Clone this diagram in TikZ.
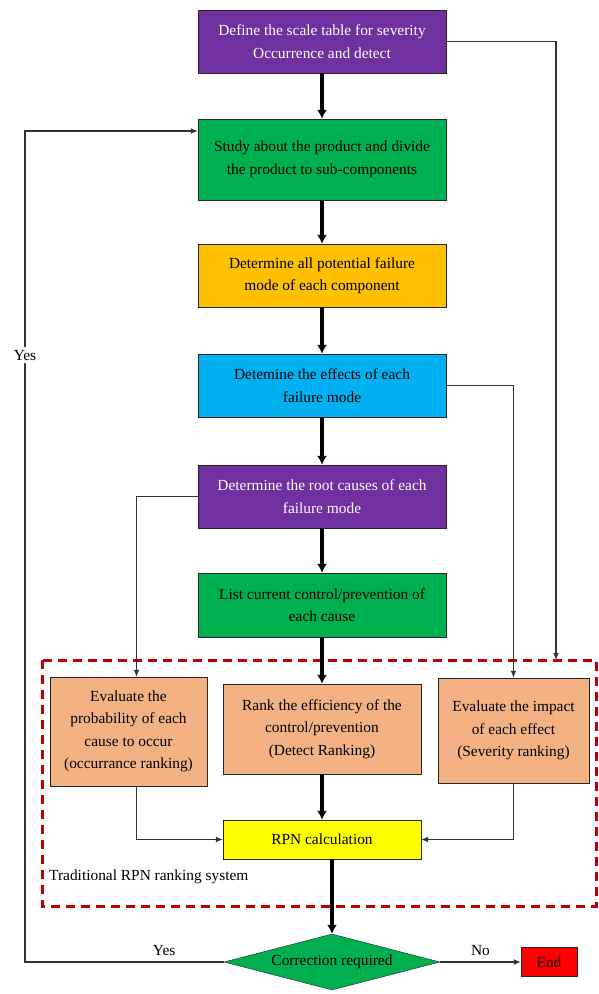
\documentclass[tikz,border=0pt]{standalone}
\usepackage{fontspec}
\setmainfont{Liberation Serif}
\usetikzlibrary{positioning,shapes.geometric,arrows.meta}
\definecolor{purp}{HTML}{7030A0}
\definecolor{grn}{HTML}{00B050}
\definecolor{gold}{HTML}{FFC000}
\definecolor{sky}{HTML}{00B0F0}
\definecolor{peach}{HTML}{F4B183}
\definecolor{yel}{HTML}{FFFF00}
\definecolor{dred}{HTML}{C00000}
\begin{document}
\begin{tikzpicture}[x=1pt,y=1pt]
    \tikzstyle{every node}=[font=\fontsize{15.4}{22.5}\selectfont]
    \tikzstyle{box}=[draw=black!85,rectangle,inner sep=0,align=center,minimum width=248,minimum height=63]
    \tikzstyle{rank}=[box,fill=peach]
    \tikzstyle{note}=[draw=none,fill=none,inner sep=1]
    \tikzstyle{flow}=[line width=4pt,-{Latex[length=9pt,width=10pt]}]
    \tikzstyle{link}=[draw=black!80,line width=1.3pt,-{Latex[length=7pt,width=6pt]}]
    \tikzstyle{region}=[draw=dred,line width=3pt,dash pattern=on 9pt off 6pt]
    \useasboundingbox (0,0) rectangle (598,-994);

    \node[box,fill=purp,text=white] (scale) at (322,-41.5) {Define the scale table for severity\\Occurrence and detect};
    \node[box,fill=grn,minimum height=81] (study) at (322,-159.5) {Study about the product and divide\\the product to sub-components};
    \node[box,fill=gold] (mode) at (322,-275.5) {Determine all potential failure\\mode of each component};
    \node[box,fill=sky] (effect) at (322,-385.5) {Detemine the effects of each\\failure mode};
    \node[box,fill=purp,text=white] (cause) at (322,-496.5) {Determine the root causes of each\\failure mode};
    \node[box,fill=grn,minimum height=64] (control) at (322,-605) {List current control/prevention of\\each cause};

    \draw[region] (42,-660) rectangle (596,-906);
    \node[rank,minimum width=157,minimum height=109] (occur) at (128.5,-731.5) {Evaluate the\\probability of each\\cause to occur\\(occurrance ranking)};
    \node[rank,minimum width=198,minimum height=90] (detect) at (322,-729) {Rank the efficiency of the\\control/prevention\\(Detect Ranking)};
    \node[rank,minimum width=151,minimum height=105] (sever) at (513.5,-730.5) {Evaluate the impact\\of each effect\\(Severity ranking)};
    \node[box,fill=yel,minimum width=198,minimum height=39] (rpn) at (322,-839.5) {RPN calculation};
    \node[note,anchor=west] (system) at (48,-877) {Traditional RPN ranking system};

    \node[diamond,draw=black!85,fill=grn,aspect=3.86,minimum width=216,minimum height=56,inner sep=0] (check) at (332,-962) {Correction required};
    \node[box,fill=red,minimum width=56,minimum height=29] (end) at (549,-962) {End};

    \coordinate (rtop) at (556,-660);
    \coordinate (back) at (25,-131);

    \foreach \a/\b in {scale/study,study/mode,mode/effect,effect/cause,cause/control,control/detect,detect/rpn}
        \draw[flow] (\a) -- (\b);
    \draw[flow] (rpn.south -| check.north) -- (check.north);

    \draw[link] (scale.east) -| (rtop);
    \draw[link] (effect.east) -| (sever.north);
    \draw[link] (cause.west) -| ([xshift=8pt]occur.north);
    \draw[link] ([xshift=8pt]occur.south) |- (rpn.west);
    \draw[link] (sever.south) |- (rpn.east);
    \draw[link] (check.east) -- node[note,above=5pt]{No} (end.west);
    \draw[link] (check.west) -- node[note,above=5pt,pos=0.3]{Yes} (back |- check.west)
        -- node[note,fill=white,pos=0.73,inner sep=3]{Yes} (back) -- (study.west |- back);
\end{tikzpicture}
\end{document}
